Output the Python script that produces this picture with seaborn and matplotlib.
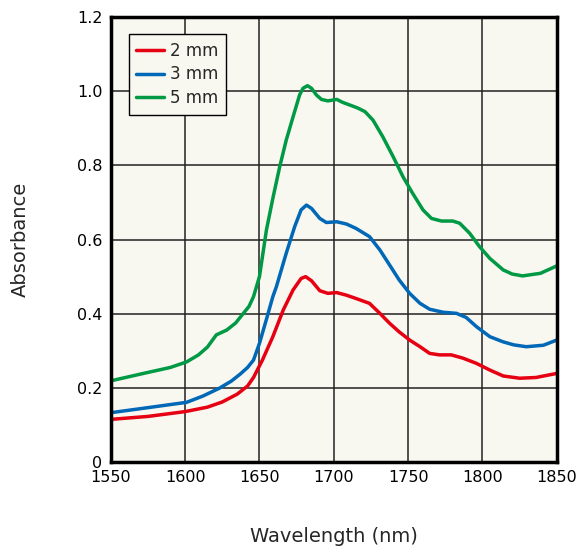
import seaborn as sns
import pandas as pd
import matplotlib.pyplot as plt

# wavelength (nm) and absorbance
wl_2mm = [1550, 1575, 1600, 1615, 1625, 1635, 1642, 1646, 1652, 1659, 1666, 1672.6, 1678, 1681, 1685,
          1690.6, 1696, 1702, 1708.5, 1715, 1724, 1731, 1737.6, 1744, 1751, 1758, 1764.5, 1771, 1779,
          1787, 1796, 1805, 1814, 1825, 1836, 1850]
abs_2mm = [0.115, 0.123, 0.136, 0.148, 0.162, 0.183, 0.205, 0.228, 0.275, 0.338, 0.410, 0.464, 0.495, 0.50, 0.489,
           0.462, 0.455, 0.457, 0.450, 0.441, 0.428, 0.401, 0.374, 0.351, 0.329, 0.311, 0.293, 0.289, 0.289,
           0.280, 0.266, 0.248, 0.232, 0.226, 0.228, 0.239]

wl_3mm = [1550, 1572, 1601, 1612, 1623, 1631, 1637, 1642, 1646, 1650, 1654.7, 1659, 1661.4, 1668, 1673.7,
          1678, 1681.6, 1685, 1690.6, 1695, 1702, 1708.5, 1715, 1724, 1731, 1737.6, 1744, 1751, 1758,
          1764.5, 1773.5, 1782.5, 1789, 1796, 1805, 1814, 1821, 1829.5, 1841, 1850]
abs_3mm = [0.133, 0.145, 0.161, 0.178, 0.199, 0.218, 0.237, 0.255, 0.275, 0.32, 0.385, 0.446, 0.473, 0.563, 0.635,
           0.680, 0.693, 0.684, 0.657, 0.646, 0.648, 0.642, 0.630, 0.608, 0.572, 0.531, 0.491, 0.455, 0.428,
           0.412, 0.404, 0.401, 0.390, 0.365, 0.338, 0.324, 0.316, 0.311, 0.315, 0.329]

wl_5mm = [1550, 1572, 1590, 1601, 1609, 1615, 1621, 1628, 1634, 1639, 1643, 1646, 1650, 1654.7, 1659,
          1663.6, 1668, 1672.6, 1677, 1679.3, 1682.3, 1685, 1688.3, 1691.7, 1696, 1702, 1706, 1710.7,
          1716, 1721, 1726.4, 1733, 1740, 1746.6, 1753, 1760, 1765.7, 1772.4, 1780, 1784.7, 1791.4,
          1798, 1805, 1814, 1820, 1827, 1839, 1850]
abs_5mm = [0.219, 0.239, 0.255, 0.27, 0.289, 0.31, 0.343, 0.356, 0.375, 0.40, 0.42, 0.446, 0.50, 0.626, 0.711,
           0.796, 0.868, 0.931, 0.990, 1.008, 1.015, 1.008, 0.990, 0.978, 0.974, 0.978, 0.970, 0.963,
           0.955, 0.945, 0.922, 0.877, 0.823, 0.769, 0.725, 0.680, 0.657, 0.650, 0.650, 0.644, 0.617,
           0.581, 0.549, 0.518, 0.507, 0.502, 0.509, 0.529]

labels = ["2 mm", "3 mm", "5 mm"]
colors = ["#e60012", "#0068b7", "#009944"]

df = pd.concat([
    pd.DataFrame({"wl": wl_2mm, "abs": abs_2mm, "sample": labels[0]}),
    pd.DataFrame({"wl": wl_3mm, "abs": abs_3mm, "sample": labels[1]}),
    pd.DataFrame({"wl": wl_5mm, "abs": abs_5mm, "sample": labels[2]}),
])

sns.set_style("white")
plt.rcParams['font.family'] = ['DejaVu Sans']

fig = plt.figure(figsize=(5.8, 5.52), dpi=100)
ax = fig.add_axes([0.191, 0.163, 0.769, 0.806])
ax.set_facecolor("#f8f7f0")

sns.lineplot(data=df, x="wl", y="abs", hue="sample", palette=colors, linewidth=2.5,
             sort=False, ax=ax)
for line in ax.get_lines():
    line.set_solid_joinstyle("round")
    line.set_solid_capstyle("round")

ax.set_xlim(1550, 1850)
ax.set_ylim(0, 1.2)
ax.set_xticks([1550, 1600, 1650, 1700, 1750, 1800, 1850])
ax.set_yticks([0, 0.2, 0.4, 0.6, 0.8, 1.0, 1.2])
ax.set_yticklabels(["0", "0.2", "0.4", "0.6", "0.8", "1.0", "1.2"])
ax.grid(True, color="#222222", linewidth=1.1)
ax.set_axisbelow(True)
ax.tick_params(length=0, labelsize=11.5, pad=6, colors="black")
for s in ax.spines.values():
    s.set_linewidth(2.5)
    s.set_color("black")

ax.set_xlabel("Wavelength (nm)", fontsize=14, labelpad=30)
ax.set_ylabel("Absorbance", fontsize=14, labelpad=34)

leg = ax.legend(loc="upper left", bbox_to_anchor=(0.040, 0.962), borderaxespad=0, fontsize=12,
                frameon=True, fancybox=False, handlelength=1.7, borderpad=0.45, labelspacing=0.35,
                handletextpad=0.35)
leg.get_frame().set_edgecolor("black")
leg.get_frame().set_facecolor("#f8f7f0")
leg.get_frame().set_alpha(1)
leg.get_frame().set_linewidth(1)

fig.savefig("out.png", dpi=100)
